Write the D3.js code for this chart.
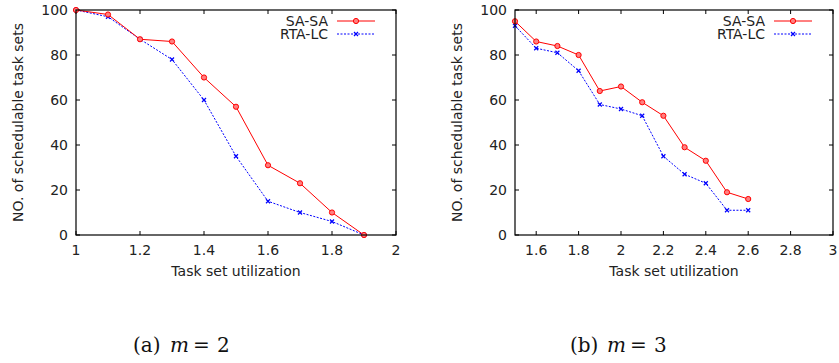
<!DOCTYPE html>
<html>
<head>
<meta charset="utf-8">
<script src="https://cdn.jsdelivr.net/npm/d3@7/dist/d3.min.js"></script>
<style>
  html, body { margin: 0; padding: 0; background: #fff; }
  svg { display: block; }
  .tick-label, .axis-title, .legend-text { font-family: "DejaVu Sans", sans-serif; font-size: 14px; fill: #222; }
  .caption { font-family: "DejaVu Serif", "Liberation Serif", serif; font-size: 20px; fill: #111; }
</style>
</head>
<body>
<div id="chart"></div>
<script>
// panel (a): m = 2
const utilA = [1.0, 1.1, 1.2, 1.3, 1.4, 1.5, 1.6, 1.7, 1.8, 1.9];
const saSaA = [100, 98, 87, 86, 70, 57, 31, 23, 10, 0];
const rtaLcA = [100, 97, 87, 78, 60, 35, 15, 10, 6, 0];
const xTicksA = [1, 1.2, 1.4, 1.6, 1.8, 2];

// panel (b): m = 3
const utilB = [1.5, 1.6, 1.7, 1.8, 1.9, 2.0, 2.1, 2.2, 2.3, 2.4, 2.5, 2.6];
const saSaB = [95, 86, 84, 80, 64, 66, 59, 53, 39, 33, 19, 16];
const rtaLcB = [93, 83, 81, 73, 58, 56, 53, 35, 27, 23, 11, 11];
const xTicksB = [1.6, 1.8, 2, 2.2, 2.4, 2.6, 2.8, 3];

const yTicks = [0, 20, 40, 60, 80, 100];
const seriesNames = ['SA-SA', 'RTA-LC'];

const W = 839, H = 363;
const svg = d3.select('#chart').append('svg')
  .attr('width', W).attr('height', H);

function drawPanel(opts) {
  const { left, right, top, bottom, xDomain, xTicks, util, sa, rta, captionX, letter, mval } = opts;
  const g = svg.append('g');
  const x = d3.scaleLinear().domain(xDomain).range([left, right]);
  const y = d3.scaleLinear().domain([0, 100]).range([bottom, top]);
  const tl = 4;

  // ticks (mirrored, inward)
  xTicks.forEach(t => {
    g.append('line').attr('x1', x(t)).attr('x2', x(t)).attr('y1', bottom).attr('y2', bottom - tl).attr('stroke', '#000');
    g.append('line').attr('x1', x(t)).attr('x2', x(t)).attr('y1', top).attr('y2', top + tl).attr('stroke', '#000');
    g.append('text').attr('class', 'tick-label')
      .attr('x', x(t)).attr('y', bottom + 20).attr('text-anchor', 'middle')
      .text(d3.format('~g')(t));
  });
  yTicks.forEach(t => {
    g.append('line').attr('x1', left).attr('x2', left + tl).attr('y1', y(t)).attr('y2', y(t)).attr('stroke', '#000');
    g.append('line').attr('x1', right).attr('x2', right - tl).attr('y1', y(t)).attr('y2', y(t)).attr('stroke', '#000');
    g.append('text').attr('class', 'tick-label')
      .attr('x', left - 8).attr('y', y(t) + 5).attr('text-anchor', 'end')
      .text(t);
  });

  const line = d3.line().x(d => x(d[0])).y(d => y(d[1]));
  const saPts = util.map((u, i) => [u, sa[i]]);
  const rtaPts = util.map((u, i) => [u, rta[i]]);

  g.append('path').attr('d', line(rtaPts)).attr('fill', 'none')
    .attr('stroke', '#0000ff').attr('stroke-width', 1).attr('stroke-dasharray', '2,1.5');
  g.append('path').attr('d', line(saPts)).attr('fill', 'none')
    .attr('stroke', '#ff0000').attr('stroke-width', 1);

  const circle = (sel, cx, cy) => {
    sel.append('circle').attr('cx', cx).attr('cy', cy).attr('r', 2.6)
      .attr('fill', '#ff8080').attr('stroke', '#ff0000').attr('stroke-width', 1);
  };
  const cross = (sel, cx, cy) => {
    const s = 2;
    sel.append('path')
      .attr('d', `M${cx - s},${cy - s}L${cx + s},${cy + s}M${cx - s},${cy + s}L${cx + s},${cy - s}`)
      .attr('stroke', '#0000ff').attr('stroke-width', 1.2);
  };
  rtaPts.forEach(p => cross(g, x(p[0]), y(p[1])));
  saPts.forEach(p => circle(g, x(p[0]), y(p[1])));

  // border
  g.append('rect').attr('x', left).attr('y', top).attr('width', right - left).attr('height', bottom - top)
    .attr('fill', 'none').attr('stroke', '#000').attr('stroke-width', 1.2);

  // legend
  const lx1 = right - 59, lx2 = right - 21, ly = [21, 34];
  g.append('text').attr('class', 'legend-text').attr('x', lx1 - 9).attr('y', ly[0] + 5)
    .attr('text-anchor', 'end').text(seriesNames[0]);
  g.append('line').attr('x1', lx1).attr('x2', lx2).attr('y1', ly[0]).attr('y2', ly[0])
    .attr('stroke', '#ff0000');
  circle(g, (lx1 + lx2) / 2, ly[0]);
  g.append('text').attr('class', 'legend-text').attr('x', lx1 - 9).attr('y', ly[1] + 5)
    .attr('text-anchor', 'end').text(seriesNames[1]);
  g.append('line').attr('x1', lx1).attr('x2', lx2).attr('y1', ly[1]).attr('y2', ly[1])
    .attr('stroke', '#0000ff').attr('stroke-dasharray', '2,1.5');
  cross(g, (lx1 + lx2) / 2, ly[1]);

  // axis titles
  g.append('text').attr('class', 'axis-title')
    .attr('x', (left + right) / 2).attr('y', bottom + 41).attr('text-anchor', 'middle')
    .text('Task set utilization');
  g.append('text').attr('class', 'axis-title')
    .attr('transform', `translate(${left - 53},${(top + bottom) / 2}) rotate(-90)`)
    .attr('text-anchor', 'middle')
    .text('NO. of schedulable task sets');

  // caption, laid out like a LaTeX subcaption
  const cap = g.append('text').attr('class', 'caption').attr('y', 352);
  cap.append('tspan').attr('x', captionX).text(`(${letter})`);
  cap.append('tspan').attr('x', captionX + 37).attr('font-style', 'italic').text('m');
  cap.append('tspan').attr('x', captionX + 60).text('=');
  cap.append('tspan').attr('x', captionX + 84).text(mval);
}

drawPanel({ left: 76, right: 396, top: 10, bottom: 235, xDomain: [1, 2], xTicks: xTicksA,
  util: utilA, sa: saSaA, rta: rtaLcA, letter: 'a', mval: 2, captionX: 133 });
drawPanel({ left: 515, right: 833, top: 10, bottom: 235, xDomain: [1.5, 3], xTicks: xTicksB,
  util: utilB, sa: saSaB, rta: rtaLcB, letter: 'b', mval: 3, captionX: 570 });
</script>
</body>
</html>
